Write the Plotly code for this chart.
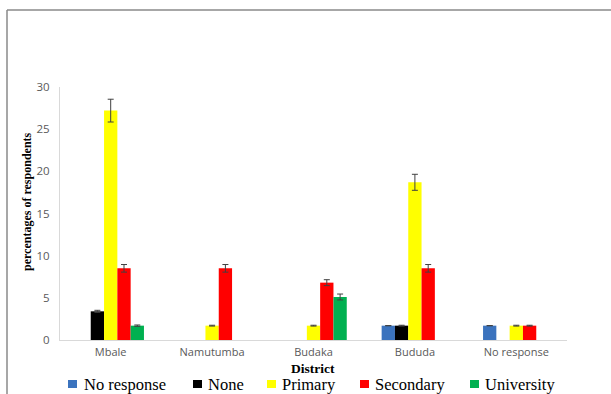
import plotly.graph_objects as go

# ---- data ----
categories = ["Mbale", "Namutumba", "Budaka", "Bududa", "No response"]
series_names = ["No response", "None", "Primary", "Secondary", "University"]
no_response = [None, None, None, 1.7, 1.7]
none_vals = [3.4, None, None, 1.7, None]
primary = [27.2, 1.7, 1.7, 18.7, 1.7]
secondary = [8.5, 8.5, 6.8, 8.5, 1.7]
university = [1.7, None, 5.1, None, None]
no_response_err = [0, 0, 0, 0, 0]
none_err = [0.12, 0, 0, 0.05, 0]
primary_err = [1.35, 0.05, 0.05, 0.95, 0.05]
secondary_err = [0.45, 0.45, 0.35, 0.45, 0.05]
university_err = [0.08, 0, 0.35, 0, 0]
y_ticks = [0, 5, 10, 15, 20, 25, 30]

colors = ["#3B73BE", "#000000", "#FFFF00", "#FF0000", "#00B050"]
values = [no_response, none_vals, primary, secondary, university]
errors = [no_response_err, none_err, primary_err, secondary_err, university_err]

W, H = 611, 394
L, R, T, B = 60, 44, 87, 54
pw, ph = W - L - R, H - T - B


def px(x):
    return (x - L) / pw


def py(y):
    return (H - B - y) / ph


fig = go.Figure()
for name, vals, errs, col in zip(series_names, values, errors, colors):
    fig.add_trace(go.Bar(
        x=categories, y=vals, name=name, marker_color=col,
        marker_line_width=0, showlegend=False,
        error_y=dict(type="data", array=errs, visible=True,
                     color="#404040", thickness=1, width=3),
    ))

serif = "Liberation Serif, Times New Roman, serif"
sans = "Open Sans, Liberation Sans, sans-serif"

shapes = [
    dict(type="line", xref="paper", yref="paper", x0=px(7), x1=px(7), y0=py(394), y1=py(10),
         line=dict(color="#8a8a8a", width=1.5)),
    dict(type="line", xref="paper", yref="paper", x0=px(7), x1=px(611), y0=py(10), y1=py(10),
         line=dict(color="#8a8a8a", width=1.5)),
]
annotations = [
    dict(text="<b>percentages of respondents</b>", xref="paper", yref="paper",
         x=px(27), y=py(202), textangle=-90, showarrow=False,
         font=dict(family=serif, size=12, color="#000000"), xanchor="center", yanchor="middle"),
    dict(text="<b>District</b>", xref="paper", yref="paper",
         x=px(312.5), y=py(368.3), showarrow=False,
         font=dict(family=serif, size=13.5, color="#000000"), xanchor="center", yanchor="middle"),
]

# custom legend
legend_pos = [(68, 82), (193, 206), (267, 280), (360, 373), (470, 483)]
for (sx, tx), name, col in zip(legend_pos, series_names, colors):
    shapes.append(dict(type="rect", xref="paper", yref="paper",
                       x0=px(sx), x1=px(sx + 9), y0=py(388), y1=py(380),
                       fillcolor=col, line=dict(width=0)))
    annotations.append(dict(text=name, xref="paper", yref="paper",
                            x=px(tx), y=py(384.8), showarrow=False,
                            xanchor="left", yanchor="middle",
                            font=dict(family=serif, size=16.5, color="#000000")))

fig.update_layout(
    width=W, height=H,
    margin=dict(l=L, r=R, t=T, b=B, pad=0),
    paper_bgcolor="white", plot_bgcolor="white",
    barmode="group", bargap=0.344, bargroupgap=0,
    showlegend=False,
    shapes=shapes, annotations=annotations,
    xaxis=dict(showline=True, linecolor="#d9d9d9", linewidth=1, showgrid=False,
               ticks="outside", ticklen=2, tickcolor="rgba(0,0,0,0)",
               tickfont=dict(family=sans, size=11, color="#595959"), zeroline=False),
    yaxis=dict(range=[0, 30], tickvals=y_ticks, showline=True, linecolor="#d9d9d9",
               linewidth=1, showgrid=False, zeroline=False,
               ticks="outside", ticklen=7, tickcolor="rgba(0,0,0,0)",
               tickfont=dict(family=sans, size=11.5, color="#595959")),
)

fig.write_html("out.html")
